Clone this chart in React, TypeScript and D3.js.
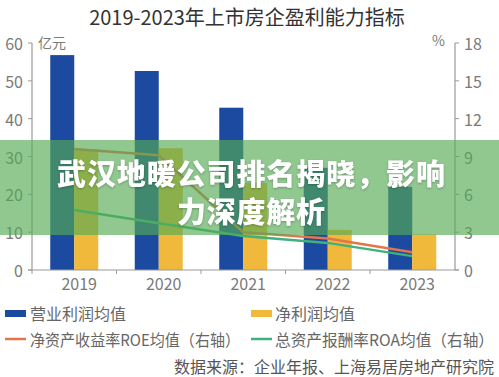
import React from "react";
import * as d3 from "d3";

const years = ["2019", "2020", "2021", "2022", "2023"];
const operatingProfit = [56.8, 52.6, 42.9, 27.0, 22.0];
const netProfit = [32.0, 32.2, 23.0, 10.6, 9.4];
const roe = [9.6, 9.1, 3.0, 2.5, 1.4];
const roa = [4.75, 3.7, 2.7, 2.15, 1.1];
const leftTicks = [0, 10, 20, 30, 40, 50, 60];
const rightTicks = [0, 3, 6, 9, 12, 15, 18];

const W = 499;
const H = 377;
const FONT = "'Noto Sans CJK SC', 'Noto Sans', sans-serif";

export default function App() {
  const x = d3.scaleBand<string>().domain(years).range([32, 454.5]);
  const yL = d3.scaleLinear().domain([0, 60]).range([270, 43]);
  const yR = d3.scaleLinear().domain([0, 18]).range([270, 43]);
  const barW = 24;
  const cx = (d: string) => (x(d) as number) + x.bandwidth() / 2;

  const line = (vals: number[]) =>
    d3
      .line<number>()
      .x((_, i) => cx(years[i]))
      .y((v) => yR(v))(vals) as string;

  const axisColor = "#9a9a9a";
  const tickText = "#7a7a7a";

  return (
    <svg
      width={W}
      height={H}
      style={{ position: "absolute", left: 0, top: 0, background: "#fff" }}
      fontFamily={FONT}
    >
      <rect x={0} y={0} width={W} height={H} fill="#fff" />
      <text x={247} y={16} textAnchor="middle" dominantBaseline="central" fontSize={20} fill="#333">
        2019-2023年上市房企盈利能力指标
      </text>

      {/* units */}
      <text x={38} y={42} fontSize={14} fill={tickText} dominantBaseline="central">亿元</text>
      <text x={432} y={40} fontSize={14} fill={tickText} dominantBaseline="central">%</text>

      {/* bars */}
      {years.map((yr, i) => (
        <g key={yr}>
          <rect x={cx(yr) - barW} y={yL(operatingProfit[i])} width={barW} height={270 - yL(operatingProfit[i])} fill="#1c4aa0" />
          <rect x={cx(yr)} y={yL(netProfit[i])} width={barW} height={270 - yL(netProfit[i])} fill="#f1b93b" />
        </g>
      ))}

      {/* lines */}
      <path d={line(roe)} fill="none" stroke="#e3744c" strokeWidth={2.5} />
      <path d={line(roa)} fill="none" stroke="#3eb17c" strokeWidth={2.5} />

      {/* left axis */}
      <line x1={32} x2={32} y1={43} y2={270} stroke={axisColor} strokeWidth={1.2} />
      {leftTicks.map((t) => (
        <g key={"l" + t}>
          <line x1={28} x2={32} y1={yL(t)} y2={yL(t)} stroke={axisColor} />
          <text x={23} y={yL(t)} textAnchor="end" dominantBaseline="central" fontSize={16} fill={tickText}>{t}</text>
        </g>
      ))}

      {/* right axis */}
      <line x1={455} x2={455} y1={43} y2={270} stroke={axisColor} strokeWidth={1.2} />
      {rightTicks.map((t) => (
        <g key={"r" + t}>
          <line x1={455} x2={459} y1={yR(t)} y2={yR(t)} stroke={axisColor} />
          <text x={464} y={yR(t)} textAnchor="start" dominantBaseline="central" fontSize={16} fill={tickText}>{t}</text>
        </g>
      ))}

      {/* x axis */}
      <line x1={28} x2={459} y1={270} y2={270} stroke={axisColor} strokeWidth={1.2} />
      {years.map((yr) => (
        <g key={"x" + yr}>
          <line x1={x(yr) as number} x2={x(yr) as number} y1={270} y2={274} stroke={axisColor} />
          <text x={cx(yr) + 5} y={283} textAnchor="middle" dominantBaseline="central" fontSize={16} fill={tickText}>{yr}</text>
        </g>
      ))}

      {/* legend */}
      <rect x={5} y={310} width={21} height={7} fill="#1c4aa0" />
      <text x={30} y={313} dominantBaseline="central" fontSize={16} fill="#666">营业利润均值</text>
      <rect x={251} y={310} width={21} height={7} fill="#f1b93b" />
      <text x={275} y={313} dominantBaseline="central" fontSize={16} fill="#666">净利润均值</text>
      <line x1={5} x2={26} y1={339} y2={339} stroke="#e3744c" strokeWidth={2.5} />
      <text x={30} y={339} dominantBaseline="central" fontSize={16} fill="#666" textLength={210} lengthAdjust="spacingAndGlyphs">净资产收益率ROE均值（右轴）</text>
      <line x1={251} x2={272} y1={339} y2={339} stroke="#3eb17c" strokeWidth={2.5} />
      <text x={275} y={339} dominantBaseline="central" fontSize={16} fill="#666" textLength={219} lengthAdjust="spacingAndGlyphs">总资产报酬率ROA均值（右轴）</text>
      <text x={494} y={366} textAnchor="end" dominantBaseline="central" fontSize={16} fill="#555">数据来源：企业年报、上海易居房地产研究院</text>

      {/* banner overlay */}
      <rect x={0} y={140} width={W} height={95} fill="rgb(84,171,85)" fillOpacity={0.65} />
      <g fontSize={29} fontWeight={900} fill="#fff" textAnchor="middle" style={{ filter: "drop-shadow(0px 1px 1px rgba(0,0,0,0.25))" }}>
        <text x={251} y={172} dominantBaseline="central" textLength={388} lengthAdjust="spacing">武汉地暖公司排名揭晓，影响</text>
        <text x={251} y={210} dominantBaseline="central" textLength={148} lengthAdjust="spacing">力深度解析</text>
      </g>
    </svg>
  );
}
